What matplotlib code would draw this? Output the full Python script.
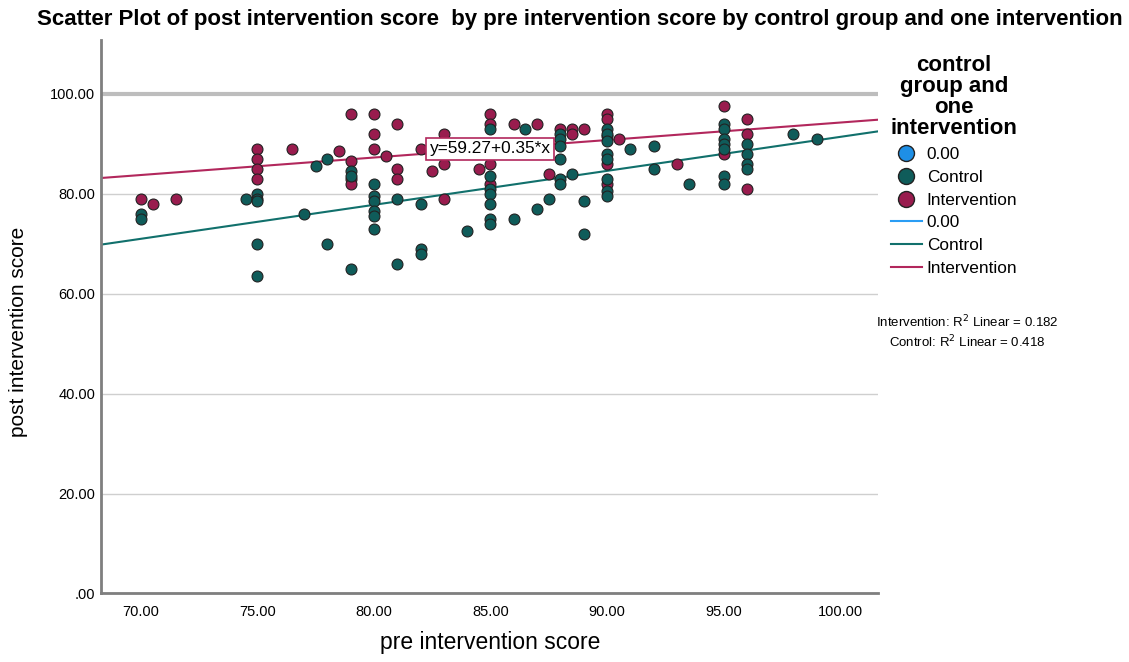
import numpy as np
import matplotlib.pyplot as plt
from matplotlib.lines import Line2D
from matplotlib.ticker import FuncFormatter

plt.rcParams['font.family'] = ['Liberation Sans', 'DejaVu Sans']

# control group: (pre, post)
control_pre = [70, 70, 74.5, 75, 75, 75, 75, 75, 77, 77.5, 78, 78, 79, 79, 79,
               80, 80, 80, 80, 80, 80, 81, 81, 82, 82, 82, 84,
               85, 85, 85, 85, 85, 85, 85, 86, 86.5, 87, 87.5,
               88, 88, 88, 88, 88, 88, 88.5, 89, 89,
               90, 90, 90, 90, 90, 90, 90, 90, 91, 92, 92, 93.5,
               95, 95, 95, 95, 95, 95, 95, 96, 96, 96, 96, 98, 99]
control_post = [76, 75, 79, 80, 79, 78.5, 70, 63.5, 76, 85.5, 87, 70, 84.5, 83.5, 65,
                82, 79.5, 78.5, 76.5, 75.5, 73, 79, 66, 78, 69, 68, 72.5,
                93, 83.5, 81, 80, 78, 75, 74, 75, 93, 77, 79,
                92, 91, 89.5, 87, 83, 82, 84, 78.5, 72,
                93, 92, 90.5, 88, 87, 83, 80.5, 79.5, 89, 89.5, 85, 82,
                94, 93, 91, 90, 89, 83.5, 82, 90, 88, 86, 85, 92, 91]

# intervention group: (pre, post)
interv_pre = [70, 70.5, 71.5, 75, 75, 75, 75, 76.5, 78.5, 79, 79, 79, 79,
              80, 80, 80, 80.5, 81, 81, 81, 82, 82.5, 83, 83, 83, 84.5,
              85, 85, 85, 85, 86, 87, 87.5, 88, 88.5, 88.5, 89,
              90, 90, 90, 90, 90, 90.5, 93, 95, 95, 96, 96, 96]
interv_post = [79, 78, 79, 89, 87, 85, 83, 89, 88.5, 96, 86.5, 83, 82,
               96, 92, 89, 87.5, 94, 85, 83, 89, 84.5, 92, 86, 79, 85,
               96, 94, 86, 82, 94, 94, 84, 93, 93, 92, 93,
               96, 95, 91.5, 86, 82, 91, 86, 97.5, 88, 95, 92, 81]

# fit lines
interv_fit = (59.27, 0.35)
control_fit = (23.4, 0.68)
r2_labels = ['Intervention: R$^2$ Linear = 0.182', 'Control: R$^2$ Linear = 0.418']

legend_labels = ['0.00', 'Control', 'Intervention']
blue, teal, maroon = '#1e8fe6', '#0f5c5a', '#991c4e'
line_cols = ['#2a9df4', '#11706c', '#b2275c']

xlim = (68.29, 101.63)
ylim = (0, 110.8)

fig = plt.figure(figsize=(11.29, 6.62), dpi=100)
ax = fig.add_axes([0.0895, 0.1035, 0.6882, 0.8361])

xs = np.array(xlim)
ax.plot(xs, control_fit[0] + control_fit[1] * xs, color=line_cols[1], lw=1.5, zorder=2)
ax.plot(xs, interv_fit[0] + interv_fit[1] * xs, color=line_cols[2], lw=1.5, zorder=2)

ax.scatter(interv_pre, interv_post, s=62, c=maroon, edgecolors='#222222',
           linewidths=0.8, zorder=3)
ax.scatter(control_pre, control_post, s=62, c=teal, edgecolors='#222222',
           linewidths=0.8, zorder=4)

ax.text(82.4, 89, 'y=59.27+0.35*x', fontsize=12.4, va='center', ha='left',
        zorder=5, bbox=dict(boxstyle='square,pad=0.2', fc='white',
                            ec='#b2275c', lw=1.2))

ax.set_xlim(*xlim)
ax.set_ylim(*ylim)
ax.set_xticks([70, 75, 80, 85, 90, 95, 100])
ax.set_yticks([0, 20, 40, 60, 80, 100])
fmt = FuncFormatter(lambda v, p: '.00' if v == 0 else f'{v:.2f}')
ax.xaxis.set_major_formatter(fmt)
ax.yaxis.set_major_formatter(fmt)
ax.tick_params(length=0, labelsize=10.5, pad=8)
ax.tick_params(axis='y', pad=4)
ax.grid(axis='y', color='#cfcfcf', lw=1)
ax.set_axisbelow(True)
ax.get_ygridlines()[-1].set_linewidth(3)
ax.get_ygridlines()[-1].set_color('#bdbdbd')
for s in ['top', 'right']:
    ax.spines[s].set_visible(False)
for s in ['left', 'bottom']:
    ax.spines[s].set_color('#7f7f7f')
    ax.spines[s].set_linewidth(2)

fig.text(0.514, 0.97, 'Scatter Plot of post intervention score  by pre intervention score '
         'by control group and one intervention', ha='center', va='center',
         fontsize=16, fontweight='bold')
fig.text(0.434, 0.012, 'pre intervention score', ha='center', va='bottom', fontsize=16.5)
fig.text(0.016, 0.498, 'post intervention score', ha='center', va='center',
         rotation=90, fontsize=15)

handles = [Line2D([], [], ls='none', marker='o', ms=11.5, mfc=c, mec='#222222')
           for c in (blue, teal, maroon)]
handles += [Line2D([], [], color=c, lw=1.5) for c in line_cols]
leg = fig.legend(handles, legend_labels * 2, loc='upper left',
                 bbox_to_anchor=(0.775, 0.94), frameon=False, fontsize=12.4,
                 title='control\ngroup and\none\nintervention',
                 title_fontproperties={'weight': 'bold', 'size': 16},
                 handlelength=1.8, handletextpad=0.3, labelspacing=0.45)
leg.get_title().set_multialignment('center')
leg.get_title().set_linespacing(1.0)

fig.text(0.857, 0.513, r2_labels[0], ha='center', va='center', fontsize=9.5)
fig.text(0.857, 0.484, r2_labels[1], ha='center', va='center', fontsize=9.5)

fig.savefig('out.png', dpi=100)
